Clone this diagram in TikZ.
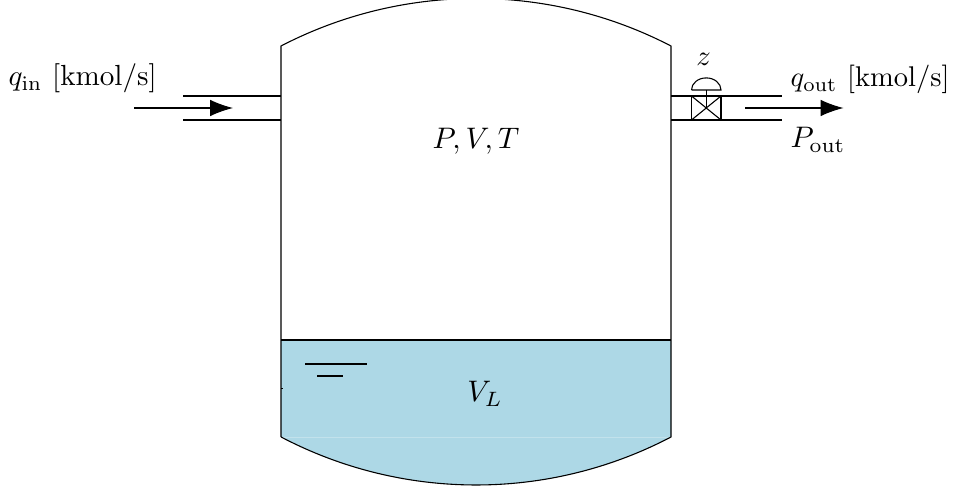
\documentclass[tikz,border=0pt]{standalone}
\usetikzlibrary{arrows.meta}
\definecolor{liquid}{HTML}{ADD8E6}
\tikzset{
  pipe/.style={draw=black,line width=0.55pt},
  flow/.style={draw=black,line width=0.55pt,-{Latex[length=11.5pt,width=8.3pt]}},
  label/.style={inner sep=0pt,scale=1.5},
}
\begin{document}
\begin{tikzpicture}[x=0.505pt,y=-0.505pt]
\useasboundingbox (0,0) rectangle (956,492);
\clip (0,0) rectangle (956,492);
% liquid
\fill[liquid] (281,340) -- (671,340) -- (671,437) arc[start angle=297.66,end angle=242.34,radius=212.1pt] -- cycle;
\draw[liquid!75!white,line width=0.3pt] (281,437) -- (671,437);
% vessel
\coordinate (tl) at (281,46);
\coordinate (tr) at (671,46);
\coordinate (bl) at (281,437);
\coordinate (br) at (671,437);
\coordinate (ll) at (281,340);
\coordinate (lr) at (671,340);
\draw[pipe] (bl) -- (tl) arc[start angle=117.4,end angle=62.6,radius=214pt] -- (br) arc[start angle=297.66,end angle=242.34,radius=212.1pt];
\draw[pipe] (ll) -- (lr);
\draw[pipe,line width=0.4pt] (281,388.5) -- (283,388.5);
% level mark
\coordinate (m1) at (305,364); \coordinate (m2) at (367,364);
\coordinate (m3) at (317,376); \coordinate (m4) at (343,376);
\draw[pipe] (m1) -- (m2);
\draw[pipe] (m3) -- (m4);
% inlet
\coordinate (ia) at (183,96); \coordinate (ib) at (281,96);
\coordinate (ic) at (183,120); \coordinate (id) at (281,120);
\coordinate (ie) at (134,108); \coordinate (if) at (233,108);
\draw[pipe] (ia) -- (ib);
\draw[pipe] (ic) -- (id);
\draw[flow] (ie) -- (if);
% outlet
\coordinate (oa) at (671,96); \coordinate (ob) at (782,96);
\coordinate (oc) at (671,120); \coordinate (od) at (782,120);
\coordinate (oe) at (745,108); \coordinate (of) at (843.5,108);
\draw[pipe] (oa) -- (ob);
\draw[pipe] (oc) -- (od);
\draw[flow] (oe) -- (of);
% valve
\coordinate (v1) at (691.5,96); \coordinate (v2) at (721,120);
\coordinate (v3) at (691.5,120); \coordinate (v4) at (721,96);
\coordinate (vc) at (706.2,108); \coordinate (vs) at (706.2,90);
\draw[pipe] (v1) rectangle (v2);
\draw[pipe] (v1) -- (v2);
\draw[pipe] (v3) -- (v4);
\draw[pipe] (vc) -- (vs);
\draw[pipe] (691.5,90) -- (721,90) arc[start angle=0,end angle=180,x radius=7.45pt,y radius=6.1pt];
% labels
\node[label,anchor=base west,scale=0.98] (qin) at (8,86) {$q_{\mathrm{in}}$ [kmol/s]};
\node[label,anchor=base west,scale=0.96] (qout) at (790,87) {$q_{\mathrm{out}}$ [kmol/s]};
\node[label,anchor=base west] (pout) at (790,148) {$P_{\mathrm{out}}$};
\node[label,anchor=base,scale=0.96] (z) at (703.5,66) {$z$};
\node[label,anchor=base] (pvt) at (476,149) {$P,V,T$};
\node[label,anchor=base] (vl) at (485,402) {$V_L$};
\end{tikzpicture}
\end{document}
